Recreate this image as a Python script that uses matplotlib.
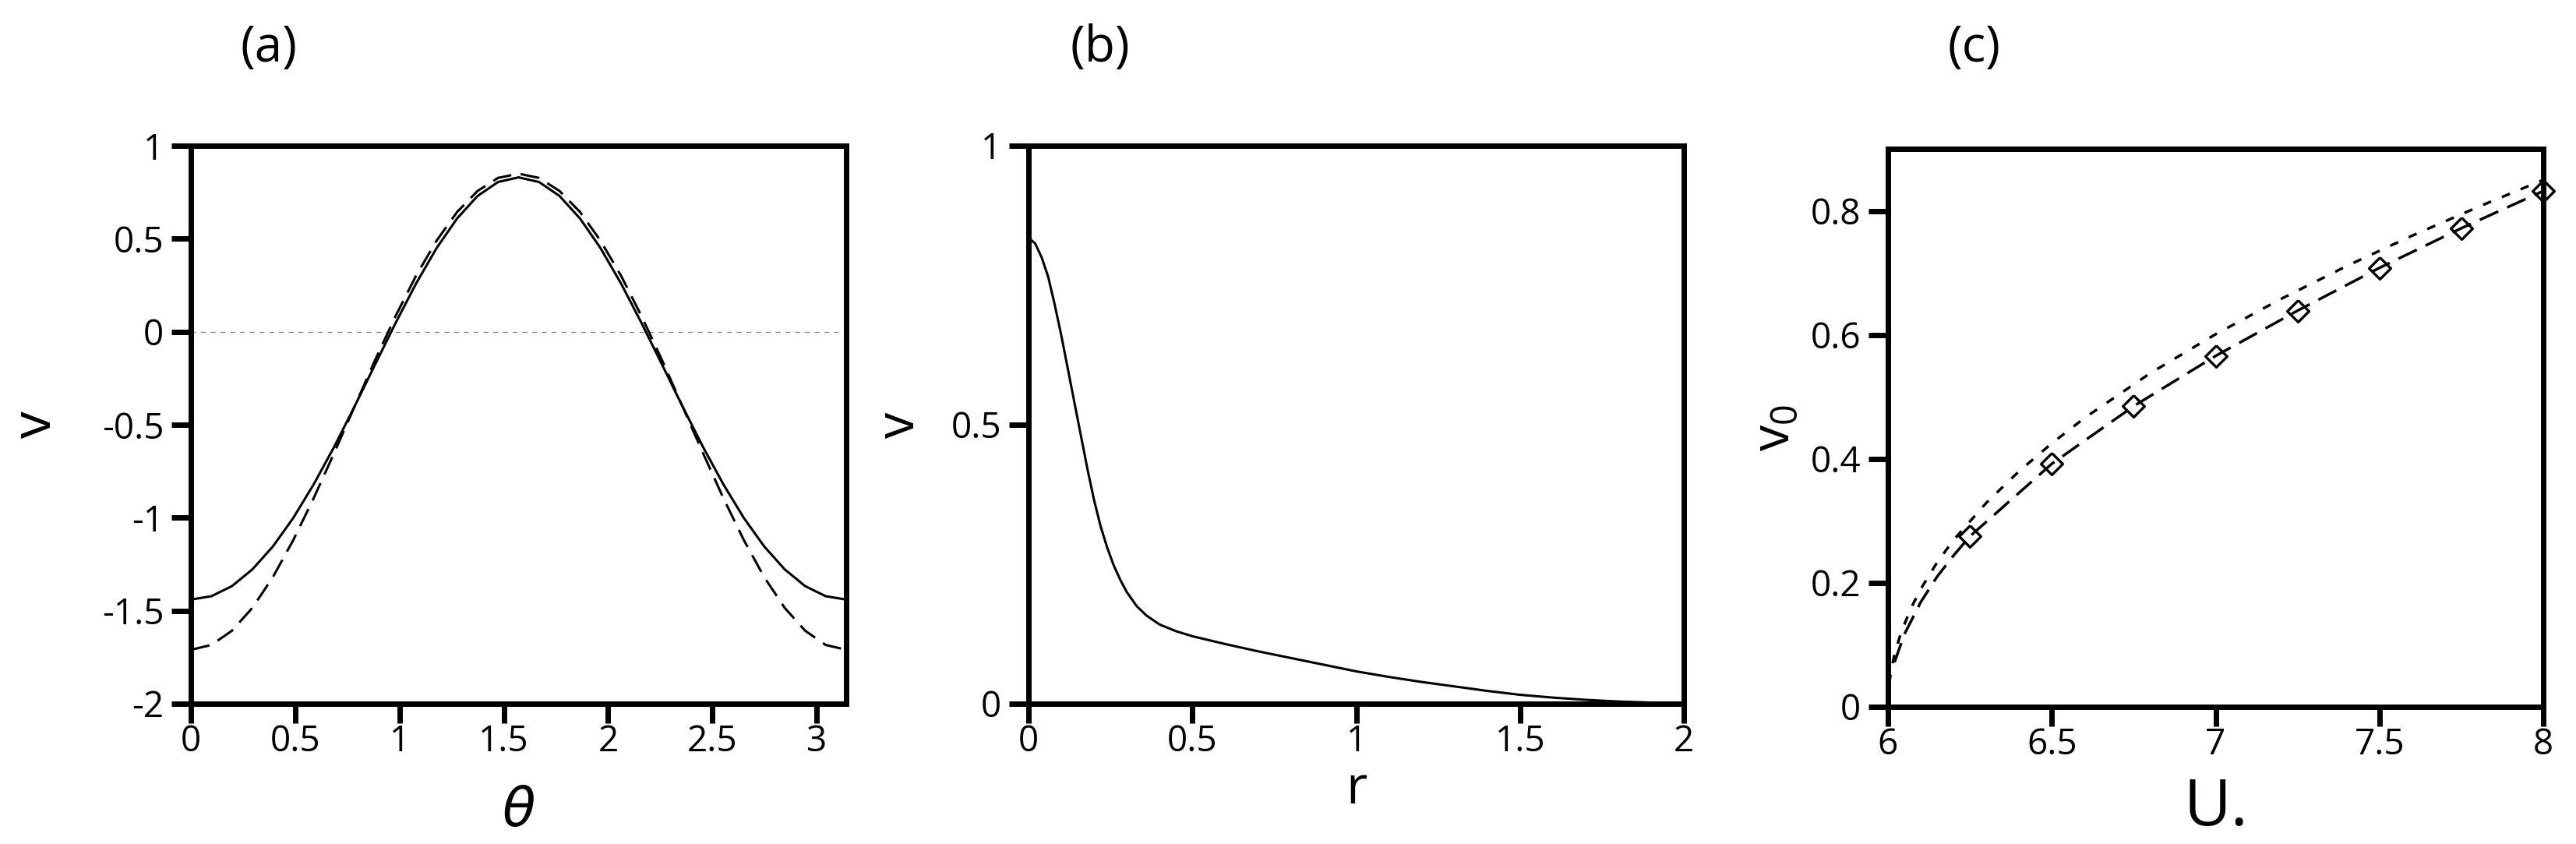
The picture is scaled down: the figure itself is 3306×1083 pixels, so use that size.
import matplotlib
matplotlib.use("Agg")
import matplotlib.pyplot as plt

plt.rcParams['font.family'] = ['Open Sans', 'DejaVu Sans']
plt.rcParams['axes.unicode_minus'] = False
plt.rcParams['mathtext.fontset'] = 'custom'
plt.rcParams['mathtext.rm'] = 'Open Sans'

# (a) v against theta, solid and dashed curves
theta = [0.0, 0.0982, 0.1963, 0.2945, 0.3927, 0.4909, 0.5890, 0.6872, 0.7854,
         0.8836, 0.9817, 1.0799, 1.1781, 1.2763, 1.3744, 1.4726, 1.5708,
         1.6690, 1.7671, 1.8653, 1.9635, 2.0617, 2.1598, 2.2580, 2.3562,
         2.4544, 2.5525, 2.6507, 2.7489, 2.8471, 2.9452, 3.0434, 3.1416]
v_solid = [-1.440, -1.422, -1.368, -1.278, -1.155, -1.001, -0.820, -0.618, -0.400,
           -0.175, 0.048, 0.260, 0.450, 0.609, 0.730, 0.805, 0.830,
           0.805, 0.730, 0.609, 0.450, 0.260, 0.048, -0.175, -0.400,
           -0.618, -0.820, -1.001, -1.155, -1.278, -1.368, -1.422, -1.440]
v_dashed = [-1.710, -1.684, -1.608, -1.485, -1.320, -1.120, -0.894, -0.651, -0.400,
            -0.151, 0.085, 0.302, 0.490, 0.644, 0.757, 0.827, 0.850,
            0.827, 0.757, 0.644, 0.490, 0.302, 0.085, -0.151, -0.400,
            -0.651, -0.894, -1.120, -1.320, -1.485, -1.608, -1.684, -1.710]

# (b) v against r
r = [0.0, 0.02, 0.04, 0.06, 0.08, 0.10, 0.12, 0.14, 0.16, 0.18, 0.20, 0.22,
     0.24, 0.26, 0.28, 0.30, 0.33, 0.36, 0.40, 0.45, 0.50, 0.60, 0.70, 0.80,
     0.90, 1.00, 1.10, 1.20, 1.30, 1.40, 1.50, 1.60, 1.70, 1.80, 1.90, 2.00]
v_r = [0.835, 0.825, 0.800, 0.765, 0.715, 0.660, 0.600, 0.540, 0.480, 0.420, 0.365, 0.318,
       0.280, 0.248, 0.222, 0.200, 0.175, 0.158, 0.142, 0.130, 0.121, 0.107, 0.094, 0.082,
       0.070, 0.058, 0.048, 0.039, 0.031, 0.023, 0.016, 0.011, 0.007, 0.004, 0.002, 0.000]

# (c) v0 against U
u_short = [6.004, 6.01, 6.02, 6.04, 6.07, 6.1, 6.15, 6.2, 6.3, 6.4, 6.5, 6.6,
           6.8, 7.0, 7.2, 7.4, 7.6, 7.8, 8.0]
v0_short = [0.038, 0.060, 0.085, 0.120, 0.159, 0.190, 0.233, 0.269, 0.329, 0.380, 0.425, 0.466,
            0.538, 0.601, 0.658, 0.711, 0.760, 0.806, 0.850]
u_long = [6.02, 6.05, 6.1, 6.15, 6.2, 6.25, 6.5, 6.75, 7.0, 7.25, 7.5, 7.75, 8.0]
v0_long = [0.072, 0.117, 0.169, 0.210, 0.244, 0.275, 0.392, 0.485, 0.566, 0.639, 0.708, 0.772, 0.832]
u_pts = [6.25, 6.5, 6.75, 7.0, 7.25, 7.5, 7.75, 8.0]
v0_pts = [0.275, 0.392, 0.485, 0.566, 0.639, 0.708, 0.772, 0.832]

W, H = 3306, 1083
fig = plt.figure(figsize=(W / 100, H / 100), dpi=100)
ax_a = fig.add_axes([245 / W, 1 - 903 / H, 841 / W, 716 / H])
ax_b = fig.add_axes([1320 / W, 1 - 903 / H, 841 / W, 716 / H])
ax_c = fig.add_axes([2423 / W, 1 - 907 / H, 841 / W, 716 / H])

for ax in (ax_a, ax_b, ax_c):
    for s in ax.spines.values():
        s.set_linewidth(5)
    ax.tick_params(direction='out', length=18, width=5, labelsize=33)
    ax.tick_params(axis='x', pad=1)
    ax.tick_params(axis='y', pad=7)

# panel a
ax_a.axhline(0, color='#888888', lw=0.9, ls=(0, (5, 5)))
ax_a.plot(theta, v_solid, color='black', lw=2.2)
ax_a.plot(theta, v_dashed, color='black', lw=2.2, ls=(0, (8, 4)))
ax_a.set_xlim(0, 3.1416)
ax_a.set_ylim(-2, 1)
ax_a.set_xticks([0, 0.5, 1, 1.5, 2, 2.5, 3])
ax_a.set_xticklabels(['0', '0.5', '1', '1.5', '2', '2.5', '3'])
ax_a.set_yticks([-2, -1.5, -1, -0.5, 0, 0.5, 1])
ax_a.set_yticklabels(['-2', '-1.5', '-1', '-0.5', '0', '0.5', '1'])
ax_a.text(-0.235, 0.5, 'v', rotation=90, fontsize=50, ha='center', va='center',
          transform=ax_a.transAxes)
ax_a.text(0.5, -0.219, 'θ', fontsize=50, style='italic', family=['DejaVu Sans'],
          ha='center', va='baseline', transform=ax_a.transAxes)

# panel b
ax_b.plot(r, v_r, color='black', lw=2.2)
ax_b.set_xlim(0, 2)
ax_b.set_ylim(0, 1)
ax_b.set_xticks([0, 0.5, 1, 1.5, 2])
ax_b.set_xticklabels(['0', '0.5', '1', '1.5', '2'])
ax_b.set_yticks([0, 0.5, 1])
ax_b.set_yticklabels(['0', '0.5', '1'])
ax_b.text(-0.196, 0.5, 'v', rotation=90, fontsize=48, ha='center', va='center',
          transform=ax_b.transAxes)
ax_b.text(0.5, -0.179, 'r', fontsize=48, ha='center', va='baseline',
          transform=ax_b.transAxes)

# panel c
ax_c.plot(u_short, v0_short, color='black', lw=2.5, ls=(0, (3.2, 4.3)))
ax_c.plot(u_long, v0_long, color='black', lw=2.5, ls=(0, (7.5, 3.6)))
diamond = [(0, 1), (1, 0), (0, -1), (-1, 0), (0, 1)]
ax_c.plot(u_pts, v0_pts, ls='none', marker=diamond, markersize=20,
          markerfacecolor='none', markeredgecolor='black', markeredgewidth=2.4,
          clip_on=False)
ax_c.set_xlim(6, 8)
ax_c.set_ylim(0, 0.9)
ax_c.set_xticks([6, 6.5, 7, 7.5, 8])
ax_c.set_xticklabels(['6', '6.5', '7', '7.5', '8'])
ax_c.set_yticks([0, 0.2, 0.4, 0.6, 0.8])
ax_c.set_yticklabels(['0', '0.2', '0.4', '0.6', '0.8'])
ax_c.text(-0.172, 0.5, 'v$_{0}$', rotation=90, fontsize=48, ha='center', va='center',
          transform=ax_c.transAxes)
ax_c.text(0.5, -0.212, 'U.', fontsize=60, ha='center', va='baseline',
          transform=ax_c.transAxes)

for label, x in (('(a)', 345), ('(b)', 1412), ('(c)', 2533)):
    fig.text(x / W, 1 - 62 / H, label, fontsize=46, ha='center', va='center')

fig.savefig('out.png', dpi=100)
